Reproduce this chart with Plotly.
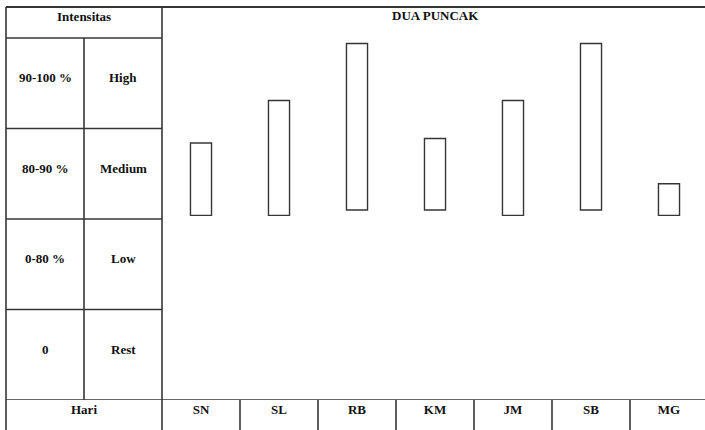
import plotly.graph_objects as go

# ---- data ----
days = ["SN", "SL", "RB", "KM", "JM", "SB", "MG"]
bar_base = [2.04, 2.04, 2.10, 2.10, 2.04, 2.10, 2.04]
bar_top = [2.84, 3.31, 3.94, 2.89, 3.31, 3.94, 2.39]
ranges = ["0", "0-80 %", "80-90 %", "90-100 %"]
levels = ["Rest", "Low", "Medium", "High"]
title_text = "DUA PUNCAK"
header_text = "Intensitas"
footer_text = "Hari"

W, H = 705, 430
FONT = "Liberation Serif, Times New Roman, DejaVu Serif, serif"
LC = "#363636"
LW = 1.6
FS = 13

# geometry helpers (pixel -> axis units)
px_per_x = 78.0
px_per_y = 90.5
x_min = -0.5 - 162 / px_per_x
x_max = x_min + W / px_per_x
bottom_px = 30  # height of bottom row below the plot area
y_max = (H - bottom_px) / px_per_y
y_top_line = (H - bottom_px - 7) / px_per_y

heights = [t - b for t, b in zip(bar_top, bar_base)]

fig = go.Figure()
fig.add_trace(go.Bar(
    x=days, y=heights, base=bar_base, width=0.27,
    marker=dict(color="white", line=dict(color=LC, width=1.4)),
    hoverinfo="skip", showlegend=False,
))

shapes = []
def line(x0, y0, x1, y1, xref="x", yref="y", width=LW):
    shapes.append(dict(type="line", x0=x0, y0=y0, x1=x1, y1=y1, xref=xref, yref=yref,
                       line=dict(color=LC, width=width), layer="above"))

line(-2.5, y_top_line, x_max, y_top_line, width=2)
line(-2.5, 0, x_max, 0)
for k in range(1, len(levels) + 1):
    line(-2.5, k, -0.5, k)
bottom_paper = bottom_px / H
top_paper = (H - 7) / H
for xv in (-2.5, -0.5):
    line(xv, 0, xv, top_paper, yref="paper")
line(-1.5, 0, -1.5, len(levels))
for i in range(len(days) - 1):
    line(i + 0.5, 0, i + 0.5, bottom_paper, yref="paper")

annotations = []
def text(x, y, s, yref="y"):
    annotations.append(dict(x=x, y=y, xref="x", yref=yref, text="<b>%s</b>" % s,
                            showarrow=False, xanchor="center", yanchor="middle",
                            font=dict(family=FONT, size=FS, color="#111")))

text(-1.5, (H - bottom_px - 16) / px_per_y, header_text)
text(3, (H - bottom_px - 15) / px_per_y, title_text)
for k, (r, lv) in enumerate(zip(ranges, levels)):
    text(-2, k + 0.56, r)
    text(-1, k + 0.56, lv)
text(-1.5, (H - 409) / H, footer_text, yref="paper")

fig.update_layout(
    width=W, height=H,
    margin=dict(l=0, r=0, t=0, b=0),
    paper_bgcolor="white", plot_bgcolor="white",
    font=dict(family=FONT),
    shapes=shapes, annotations=annotations,
    xaxis=dict(type="category", categoryorder="array", categoryarray=days,
               range=[x_min, x_max], domain=[0, 1],
               showgrid=False, zeroline=False, showline=False, ticks="",
               tickfont=dict(family=FONT, size=FS, color="#111", weight="bold")),
    yaxis=dict(range=[0, y_max], domain=[bottom_paper, 1], visible=False,
               showgrid=False, zeroline=False),
)

fig.write_html("out.html", config={"displayModeBar": False},
               post_script="document.body.style.margin='0';")
